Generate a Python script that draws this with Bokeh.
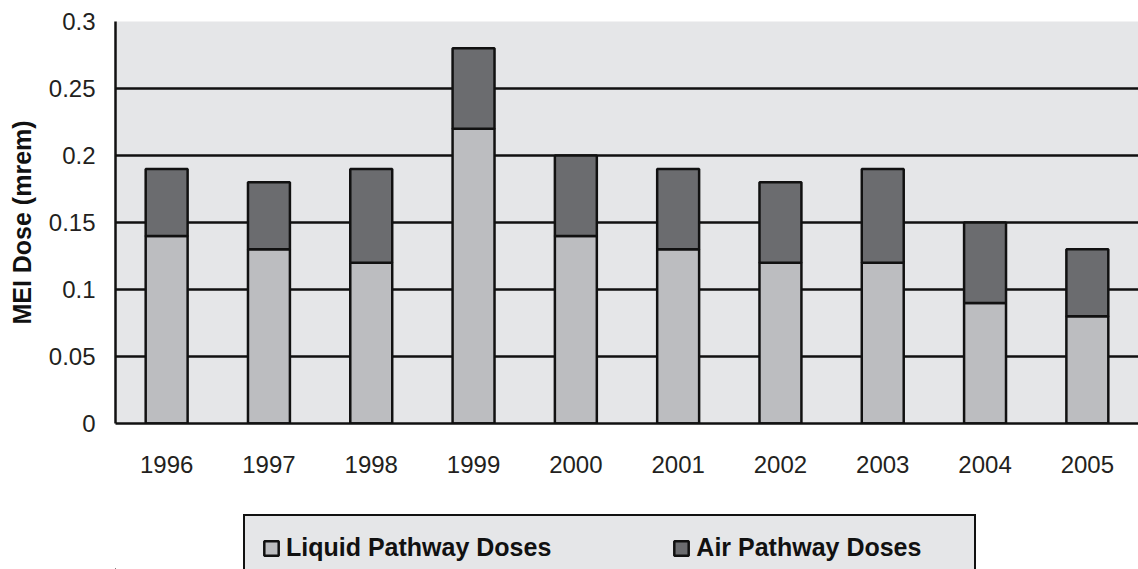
from bokeh.plotting import figure
from bokeh.layouts import column
from bokeh.models import ColumnDataSource, FactorRange, Range1d, FixedTicker, Legend, LegendItem
from bokeh.embed import file_html
from bokeh.resources import INLINE

years = ["1996", "1997", "1998", "1999", "2000", "2001", "2002", "2003", "2004", "2005"]
liquid = [0.14, 0.13, 0.12, 0.22, 0.14, 0.13, 0.12, 0.12, 0.09, 0.08]
air = [0.05, 0.05, 0.07, 0.06, 0.06, 0.06, 0.06, 0.07, 0.06, 0.05]
series_names = ["Liquid Pathway Doses", "Air Pathway Doses"]
y_ticks = [0, 0.05, 0.1, 0.15, 0.2, 0.25, 0.3]
y_tick_labels = ["0", "0.05", "0.1", "0.15", "0.2", "0.25", "0.3"]

FONT = "Liberation Sans"
LIQ_COLOR = "#bcbdc0"
AIR_COLOR = "#6b6c6f"
BG = "#e5e6e8"
INK = "#111111"
colors = [LIQ_COLOR, AIR_COLOR]

source = ColumnDataSource(data=dict(year=years, liquid=liquid, air=air))

p = figure(
    x_range=FactorRange(*years, range_padding=0),
    y_range=Range1d(0, 0.3),
    width=1138, height=483,
    output_backend="svg", toolbar_location=None,
    min_border_left=115, min_border_right=0, min_border_top=21, min_border_bottom=60,
)
p.background_fill_color = BG
p.border_fill_color = "white"
p.outline_line_color = None

renderers = p.vbar_stack(
    ["liquid", "air"], x="year", width=0.41, source=source,
    fill_color=colors, line_color=INK, line_width=2.5,
)

# grid
p.xgrid.grid_line_color = None
p.ygrid.grid_line_color = INK
p.ygrid.grid_line_width = 2.5
p.ygrid.level = "underlay"

# y axis
p.yaxis.ticker = FixedTicker(ticks=y_ticks)
p.yaxis.major_label_overrides = {t: l for t, l in zip(y_ticks, y_tick_labels)}
p.yaxis.axis_label = "MEI Dose (mrem)"
p.yaxis.axis_label_text_font = FONT
p.yaxis.axis_label_text_font_style = "bold"
p.yaxis.axis_label_text_font_size = "25px"
p.yaxis.axis_label_text_color = INK
p.yaxis.axis_label_standoff = 10
p.yaxis.major_label_text_font = FONT
p.yaxis.major_label_text_font_size = "24px"
p.yaxis.major_label_text_color = "#231f20"
p.yaxis.major_label_standoff = 14
p.yaxis.major_tick_line_color = None
p.yaxis.minor_tick_line_color = None
p.yaxis.axis_line_color = INK
p.yaxis.axis_line_width = 2.5

# x axis
p.xaxis.major_label_text_font = FONT
p.xaxis.major_label_text_font_size = "24px"
p.xaxis.major_label_text_color = "#231f20"
p.xaxis.major_label_standoff = 26
p.xaxis.major_tick_line_color = None
p.xaxis.axis_line_color = INK
p.xaxis.axis_line_width = 2.5

# legend panel (separate figure beneath the chart)
lg = figure(
    x_range=Range1d(0, 1), y_range=Range1d(0, 1),
    width=1138, height=86,
    output_backend="svg", toolbar_location=None,
    x_axis_type=None, y_axis_type=None,
    min_border_left=0, min_border_right=0, min_border_top=0, min_border_bottom=0,
)
lg.outline_line_color = None
lg.xgrid.grid_line_color = None
lg.ygrid.grid_line_color = None
lg.background_fill_color = "white"
# swatch-only renderers (placed well outside the visible range, used only by the legend)
legend_renderers = [
    lg.vbar(x=[-50], top=[-50], bottom=[-60], width=0.4, fill_color=c, line_color=INK, line_width=2.5)
    for c in colors
]

legend = Legend(
    items=[LegendItem(label=series_names[i], renderers=[legend_renderers[i]]) for i in range(2)],
    orientation="horizontal",
    location=(128, -12),
    padding=17, spacing=121, label_width=261, label_standoff=6,
    glyph_width=18, glyph_height=18,
    label_text_font=FONT, label_text_font_style="bold", label_text_font_size="25px",
    label_text_color=INK,
    border_line_color=INK, border_line_width=2.5, border_line_alpha=1.0,
    background_fill_color=BG, background_fill_alpha=1.0,
    margin=0,
)
lg.add_layout(legend, "center")

layout = column(p, lg, spacing=0)
open("out.html", "w").write(file_html(layout, INLINE))
